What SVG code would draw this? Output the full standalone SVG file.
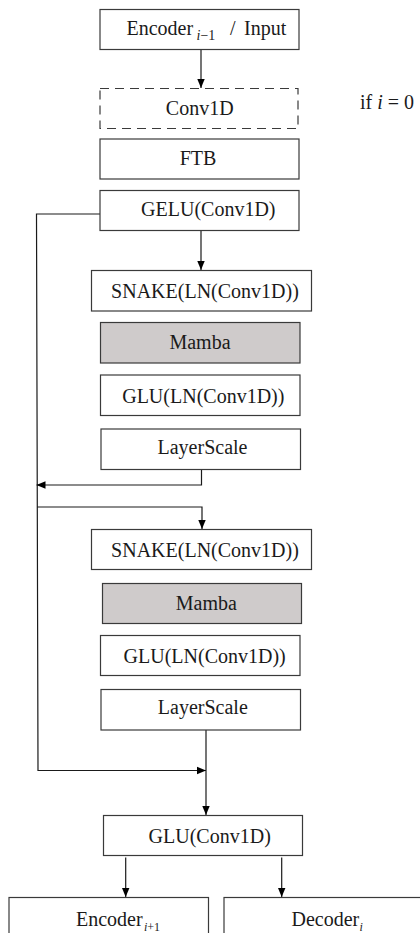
<svg xmlns="http://www.w3.org/2000/svg" width="420" height="933" viewBox="0 0 420 933" font-family="Liberation Serif, Times New Roman, DejaVu Serif, serif">
<defs>
<style>
.box{fill:#ffffff;stroke:#3a3a3a;stroke-width:1.2}
.gray{fill:#cfcbcb}
.dash{stroke-dasharray:9 6}
text{font-family:'Liberation Serif','Times New Roman','DejaVu Serif',serif}
.t{font-size:20px;fill:#1a1a1a;text-anchor:middle}
.s{font-size:14px;fill:#1a1a1a}
.it{font-style:italic}
.c{fill:none;stroke:#1a1a1a;stroke-width:1.2}
</style>
<marker id="ah" markerUnits="userSpaceOnUse" markerWidth="9" markerHeight="9" refX="9" refY="4.5" orient="auto">
<path d="M0,0.8 L9,4.5 L0,8.2 z" fill="#000"/>
</marker>
</defs>
<rect width="420" height="933" fill="#ffffff"/>
<g id="connectors">
<path class="c" d="M201,50 V88" marker-end="url(#ah)"/>
<path class="c" d="M100,214 H36.5 L38,770.5 H206" marker-end="url(#ah)"/>
<path class="c" d="M201,231 V270" marker-end="url(#ah)"/>
<path class="c" d="M201.5,470 V485 H36.5" marker-end="url(#ah)"/>
<path class="c" d="M37,507 H202 V529" marker-end="url(#ah)"/>
<path class="c" d="M206,730 V815" marker-end="url(#ah)"/>
<path class="c" d="M125.7,857.5 V897" marker-end="url(#ah)"/>
<path class="c" d="M281.7,857.5 V897" marker-end="url(#ah)"/>
</g>
<g id="encoder_in">
<rect class="box" x="100" y="9.5" width="199" height="40"/>
<text class="t" x="126.5" y="35" style="text-anchor:start">Encoder</text>
<text class="s" x="196.5" y="40"><tspan class="it">i</tspan>−1</text>
<text class="t" x="230" y="35" style="text-anchor:start">/</text>
<text class="t" x="244" y="35" style="text-anchor:start">Input</text>
</g>
<g id="conv1d_opt">
<rect class="box dash" x="100" y="88.5" width="198" height="40"/>
<text class="t" x="199.7" y="114.5">Conv1D</text>
</g>
<g id="cond_label">
<text class="t" x="360" y="109" style="text-anchor:start">if <tspan class="it">i</tspan> = 0</text>
</g>
<g id="ftb">
<rect class="box" x="100" y="139" width="199" height="40"/>
<text class="t" x="198" y="164.5">FTB</text>
</g>
<g id="gelu">
<rect class="box" x="100" y="190.5" width="199" height="40"/>
<text class="t" x="208.3" y="216">GELU(Conv1D)</text>
</g>
<g id="snake1">
<rect class="box" x="91.5" y="270.5" width="220" height="40.5"/>
<text class="t" x="205" y="297.5">SNAKE(LN(Conv1D))</text>
</g>
<g id="mamba1">
<rect class="box gray" x="100.5" y="322.5" width="199.5" height="40.5"/>
<text class="t" x="200" y="349">Mamba</text>
</g>
<g id="glu_ln1">
<rect class="box" x="100.5" y="375" width="199.5" height="40.5"/>
<text class="t" x="203.3" y="403">GLU(LN(Conv1D))</text>
</g>
<g id="layerscale1">
<rect class="box" x="101" y="429" width="199.5" height="40.5"/>
<text class="t" x="202.5" y="453.5">LayerScale</text>
</g>
<g id="snake2">
<rect class="box" x="91.5" y="529.5" width="220" height="40"/>
<text class="t" x="205" y="556.5">SNAKE(LN(Conv1D))</text>
</g>
<g id="mamba2">
<rect class="box gray" x="102.5" y="583.5" width="199" height="40"/>
<text class="t" x="206.3" y="610">Mamba</text>
</g>
<g id="glu_ln2">
<rect class="box" x="100.5" y="635.5" width="199.5" height="40"/>
<text class="t" x="204.7" y="663">GLU(LN(Conv1D))</text>
</g>
<g id="layerscale2">
<rect class="box" x="101" y="689.5" width="199.5" height="40.5"/>
<text class="t" x="202.8" y="714">LayerScale</text>
</g>
<g id="glu_conv">
<rect class="box" x="103.5" y="815.5" width="199" height="40"/>
<text class="t" x="209.7" y="843">GLU(Conv1D)</text>
</g>
<g id="encoder_out">
<rect class="box" x="9" y="897.5" width="199.5" height="50"/>
<text class="t" x="76" y="926" style="text-anchor:start">Encoder</text>
<text class="s" x="144" y="931" style="font-size:12px"><tspan class="it">i</tspan>+1</text>
</g>
<g id="decoder">
<rect class="box" x="224" y="897.5" width="200" height="50"/>
<text class="t" x="291.5" y="926" style="text-anchor:start">Decoder</text>
<text class="s it" x="359.5" y="931" style="font-size:12px">i</text>
</g>
</svg>
